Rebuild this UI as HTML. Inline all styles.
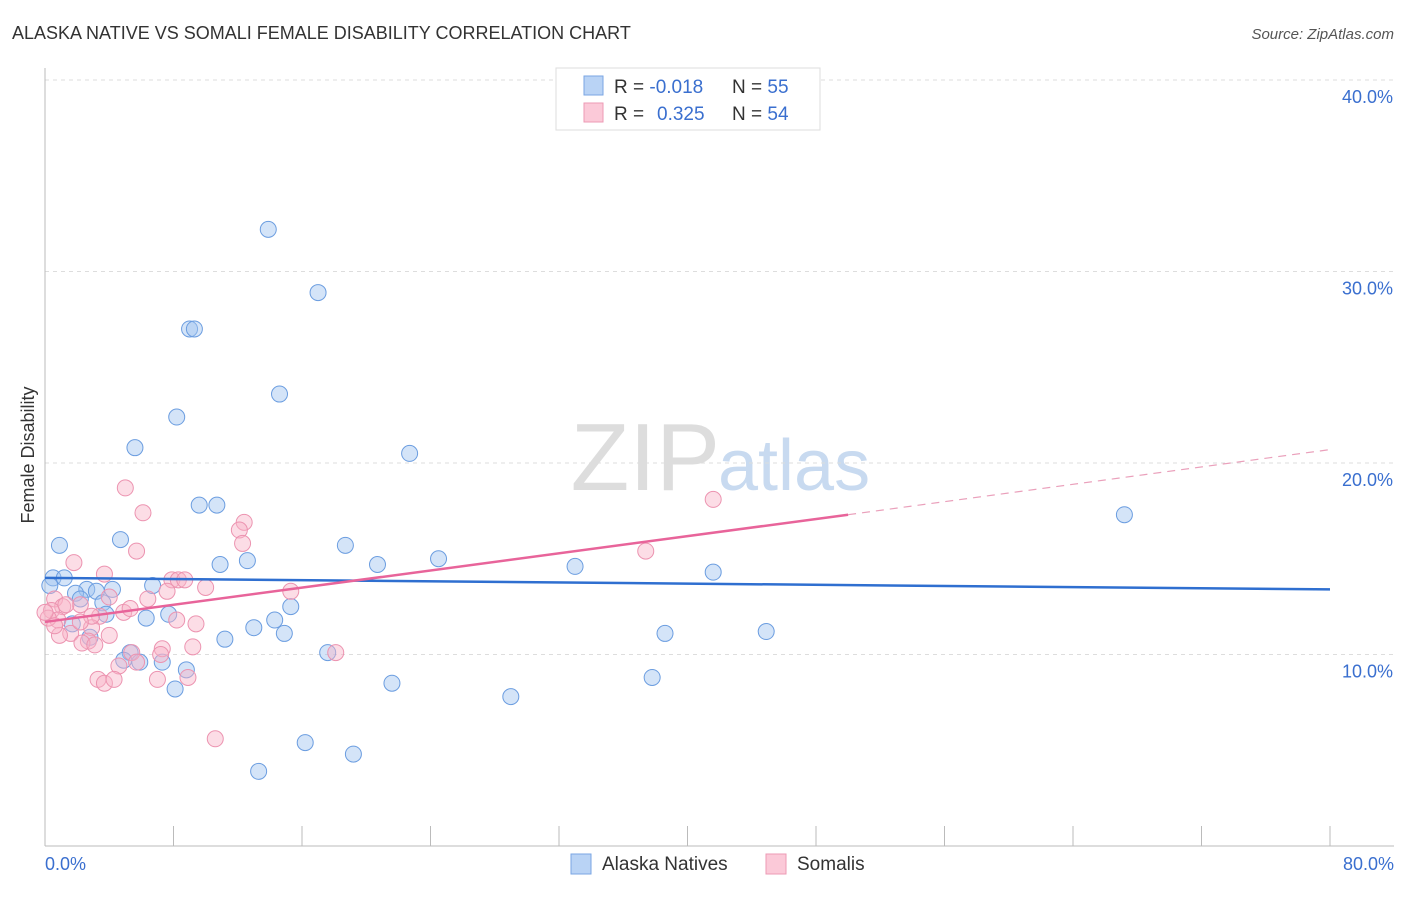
<!DOCTYPE html>
<html><head><meta charset="utf-8"><style>
body{margin:0;background:#fff;font-family:"Liberation Sans",sans-serif;}
svg text{font-family:"Liberation Sans",sans-serif;}
</style></head><body>
<svg width="1406" height="892" id="chart">
<text x="12" y="39" font-size="18" fill="#333">ALASKA NATIVE VS SOMALI FEMALE DISABILITY CORRELATION CHART</text>
<text x="1394" y="39" font-size="15" fill="#555" text-anchor="end" font-style="italic">Source: ZipAtlas.com</text>
<text x="720" y="490" font-size="96" fill="#ddd" text-anchor="end" font-family="Liberation Serif">ZIP</text>
<text x="718" y="490" font-size="72" fill="#c8daf0">atlas</text>
<g id="grid"></g><g id="axes"></g>
<text x="34" y="455" font-size="18" fill="#333" text-anchor="middle" transform="rotate(-90 34 455)">Female Disability</text>
<text x="45" y="870" font-size="18" fill="#3a6fcf">0.0%</text>
<text x="1394" y="870" font-size="18" fill="#3a6fcf" text-anchor="end">80.0%</text>
<g id="points"></g><g id="trends"></g>
<g>
<rect x="556" y="68" width="264" height="62" fill="#fff" stroke="#ddd"/>
<rect x="584" y="76" width="19" height="19" fill="#b9d3f5" stroke="#7aa6e3"/>
<rect x="584" y="103" width="19" height="19" fill="#fbc9d8" stroke="#ec9ab4"/>
<text x="614" y="93" font-size="19" fill="#333">R = <tspan fill="#3a6fcf">-0.018</tspan><tspan x="732">N = </tspan><tspan fill="#3a6fcf">55</tspan></text>
<text x="614" y="120" font-size="19" fill="#333">R = <tspan fill="#3a6fcf" x="657">0.325</tspan><tspan x="732">N = </tspan><tspan fill="#3a6fcf">54</tspan></text>
</g>
<g>
<rect x="571" y="854" width="20" height="20" fill="#b9d3f5" stroke="#7aa6e3"/>
<text x="602" y="870" font-size="19" fill="#333">Alaska Natives</text>
<rect x="766" y="854" width="20" height="20" fill="#fbc9d8" stroke="#ec9ab4"/>
<text x="797" y="870" font-size="19" fill="#333">Somalis</text>
</g>
</svg>
<script>
const yTicks=[10,20,30,40];
const yTickLabels=["10.0%","20.0%","30.0%","40.0%"];
const xTicks=[0,8,16,24,32,40,48,56,64,72,80];
const blueX=[13.9,17.0,9.0,9.3,14.6,8.2,5.6,22.7,67.2,9.6,10.7,0.9,4.7,18.7,12.6,10.9,24.5,20.7,33.0,41.6,0.5,1.2,6.7,2.6,3.2,4.2,1.9,2.2,3.6,15.3,7.7,6.3,3.8,14.3,13.0,1.7,14.9,11.2,38.6,44.9,2.8,17.6,5.3,4.9,5.9,7.3,8.8,21.6,8.1,37.8,29.0,16.2,19.2,13.3,0.3];
const blueY=[32.2,28.9,27.0,27.0,23.6,22.4,20.8,20.5,17.3,17.8,17.8,15.7,16.0,15.7,14.9,14.7,15.0,14.7,14.6,14.3,14.0,14.0,13.6,13.4,13.3,13.4,13.2,12.9,12.7,12.5,12.1,11.9,12.1,11.8,11.4,11.6,11.1,10.8,11.1,11.2,10.9,10.1,10.1,9.7,9.6,9.6,9.2,8.5,8.2,8.8,7.8,5.4,4.8,3.9,13.6];
const pinkX=[5.0,6.1,41.6,12.4,12.1,12.3,5.7,37.4,1.8,3.7,7.9,8.3,8.7,10.0,15.3,0.6,1.1,2.2,4.0,6.4,0.4,7.6,4.9,3.4,8.2,9.4,0.8,2.9,1.6,0.2,4.0,0.9,2.7,2.3,3.1,9.2,7.3,5.4,7.2,18.1,4.6,5.7,3.3,3.7,4.3,7.0,8.9,10.6,0.6,1.3,0.0,2.9,5.3,2.2];
const pinkY=[18.7,17.4,18.1,16.9,16.5,15.8,15.4,15.4,14.8,14.2,13.9,13.9,13.9,13.5,13.3,12.9,12.5,12.6,13.0,12.9,12.3,13.3,12.2,12.0,11.8,11.6,11.8,11.4,11.1,11.9,11.0,11.0,10.7,10.6,10.5,10.4,10.3,10.1,10.0,10.1,9.4,9.6,8.7,8.5,8.7,8.7,8.8,5.6,11.5,12.6,12.2,12.0,12.4,11.7];
const blueTrend=[[0,14.0],[80,13.4]];
const pinkTrendSolid=[[0,11.7],[50,17.3]];
const pinkTrendDash=[[50,17.3],[80,20.7]];
const NS="http://www.w3.org/2000/svg";
const X=v=>45+v/80*1285, Y=v=>846-v*19.15;
function mk(t,a,p){const e=document.createElementNS(NS,t);for(const k in a)e.setAttribute(k,a[k]);document.getElementById(p).appendChild(e);return e;}
yTicks.forEach((t,i)=>{
 const l=mk('line',{x1:45,x2:1394,y1:Y(t),y2:Y(t),stroke:'#ddd','stroke-dasharray':'4 4'},'grid');
 
 
 const tx=mk('text',{x:1393,y:Y(t)+23,'font-size':18,fill:'#3a6fcf','text-anchor':'end'},'grid');tx.textContent=yTickLabels[i];
 
 
});
const xa=mk('line',{x1:45,x2:1394,y1:846,y2:846,stroke:'#bbb'},'axes');


const ya=mk('line',{x1:45,x2:45,y1:68,y2:846,stroke:'#bbb'},'axes');


xTicks.forEach(t=>{const l=mk('line',{x1:X(t),x2:X(t),y1:826,y2:846,stroke:'#bbb'},'axes');
 
 });
blueX.forEach((x,i)=>{const c=mk('circle',{cx:X(x),cy:Y(blueY[i]),r:8,fill:'rgba(160,195,240,0.45)',stroke:'#6b9de0','stroke-width':1},'points');
 
 });
pinkX.forEach((x,i)=>{const c=mk('circle',{cx:X(x),cy:Y(pinkY[i]),r:8,fill:'rgba(248,180,200,0.45)',stroke:'#ec93b0','stroke-width':1},'points');
 
 });
const bt=mk('line',{x1:X(blueTrend[0][0]),y1:Y(blueTrend[0][1]),x2:X(blueTrend[1][0]),y2:Y(blueTrend[1][1]),stroke:'#2f6fd0','stroke-width':2.5},'trends');


const pt=mk('line',{x1:X(pinkTrendSolid[0][0]),y1:Y(pinkTrendSolid[0][1]),x2:X(pinkTrendSolid[1][0]),y2:Y(pinkTrendSolid[1][1]),stroke:'#e8649a','stroke-width':2.5},'trends');


const pd=mk('line',{x1:X(pinkTrendDash[0][0]),y1:Y(pinkTrendDash[0][1]),x2:X(pinkTrendDash[1][0]),y2:Y(pinkTrendDash[1][1]),stroke:'#eaa0bb','stroke-width':1.2,'stroke-dasharray':'8 6'},'trends');


</script>
</body></html>
